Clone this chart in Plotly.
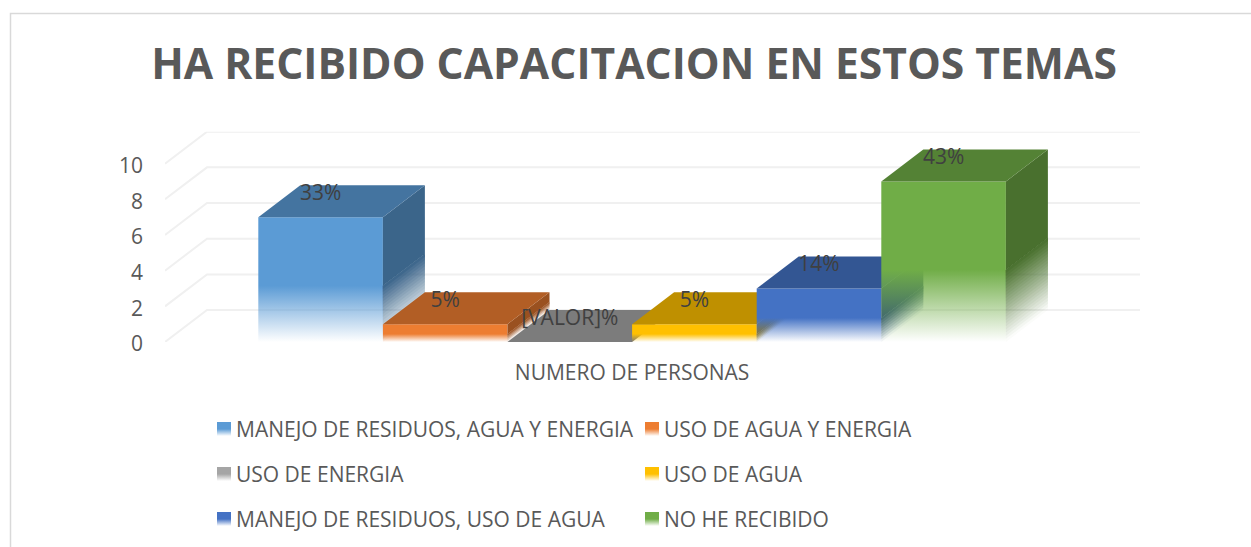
import math
import plotly.graph_objects as go

title = "HA RECIBIDO CAPACITACION EN ESTOS TEMAS"
axis_label = "NUMERO DE PERSONAS"
categories = ["MANEJO DE RESIDUOS, AGUA Y ENERGIA", "USO DE AGUA Y ENERGIA", "USO DE ENERGIA",
              "USO DE AGUA", "MANEJO DE RESIDUOS, USO DE AGUA", "NO HE RECIBIDO"]
values = [7, 1, 0, 1, 3, 9]
labels = ["33%", "5%", "[VALOR]%", "5%", "14%", "43%"]
front_rgb = [(91, 155, 213), (237, 125, 49), (165, 165, 165), (255, 192, 0), (68, 114, 196), (112, 173, 71)]
y_ticks = [0, 2, 4, 6, 8, 10]

W, H = 1251, 547
PLOT_L, PLOT_R, PLOT_T, PLOT_B = 165, 1140, 131.7, 342
UNIT_X = 124.6
UNIT_Y = 17.87
DEPTH_X = 42 / UNIT_X
DEPTH_Y = 32 / UNIT_Y
FADE = 0.45
FONT = "Open Sans"
INK = "#595959"


def rgba(c, a=1.0, k=1.0):
    return f"rgba({round(c[0]*k)},{round(c[1]*k)},{round(c[2]*k)},{a:.3f})"


def poly(xs, ys, **kw):
    return go.Scatter(x=xs + xs[:1], y=ys + ys[:1], mode="lines", line=dict(width=0), fill="toself",
                      hoverinfo="skip", showlegend=False, **kw)


fig = go.Figure()

# walls
gx, gy = [], []
x_left = -(258.3 - PLOT_L) / UNIT_X
x_right = (PLOT_R - 258.3) / UNIT_X
for t in y_ticks:
    gx += [x_left, x_left + DEPTH_X, x_right, None]
    gy += [t, t + DEPTH_Y, t + DEPTH_Y, None]
fig.add_trace(go.Scatter(x=gx, y=gy, mode="lines", line=dict(color="#f0f0f0", width=2),
                         hoverinfo="skip", showlegend=False))

# bars
for i, (v, c) in enumerate(zip(values, front_rgb)):
    x0, x1 = float(i), float(i + 1)
    # front
    if v > 0:
        fig.add_trace(poly([x0, x1, x1, x0], [0, 0, v, v],
                           fillgradient=dict(type="vertical", start=0, stop=v,
                                             colorscale=[[0, rgba(c, 0)], [FADE, rgba(c, 1)], [1, rgba(c, 1)]])))
        # side: solid part, then stacked thin layers that build up the skewed fade without seams
        f = v * FADE
        fig.add_trace(poly([x1, x1 + DEPTH_X, x1 + DEPTH_X, x1],
                           [f, f + DEPTH_Y, v + DEPTH_Y, v], fillcolor=rgba(c, 1, 0.65)))
        n = math.ceil(f * 5) + 2
        prev = 0.0
        for b in range(n):
            a0 = f * b / n
            target = (b + 0.5) / n
            layer = 1 - (1 - target) / (1 - prev)
            prev = target
            fig.add_trace(poly([x1, x1 + DEPTH_X, x1 + DEPTH_X, x1],
                               [a0, a0 + DEPTH_Y, f + DEPTH_Y, f],
                               fillcolor=rgba(c, layer, 0.65)))
    # top
    fig.add_trace(poly([x0, x1, x1 + DEPTH_X, x0 + DEPTH_X],
                       [v, v, v + DEPTH_Y, v + DEPTH_Y], fillcolor=rgba(c, 1, 0.75)))

# data labels
fig.add_trace(go.Scatter(x=[i + 0.5 for i in range(len(values))], y=[v + 1.26 for v in values],
                         mode="text", text=labels, textposition="middle center",
                         textfont=dict(family=FONT, size=21, color="#404040"),
                         hoverinfo="skip", showlegend=False))

# legend keys on a full-page axis pair
key_x = [217, 645]
key_y = [429, 474, 519]
annotations = []
for i, (name, c) in enumerate(zip(categories, front_rgb)):
    kx, ky = key_x[i % 2], key_y[i // 2]
    fig.add_trace(go.Scatter(x=[kx, kx + 14, kx + 14, kx, kx], y=[ky - 7, ky - 7, ky + 7, ky + 7, ky - 7],
                             xaxis="x2", yaxis="y2", mode="lines", line=dict(width=0), fill="toself",
                             fillgradient=dict(type="vertical", start=ky + 7, stop=ky - 7,
                                               colorscale=[[0, rgba(c, 0)], [0.5, rgba(c, 1)], [1, rgba(c, 1)]]),
                             hoverinfo="skip", showlegend=False))
    annotations.append(dict(x=kx + 20, y=ky, xref="x2", yref="y2", text=name, showarrow=False,
                            xanchor="left", yanchor="middle", xshift=-3,
                            font=dict(family=FONT, size=21, color=INK)))

fig.update_layout(
    template="none",
    width=W, height=H, autosize=False, showlegend=False,
    margin=dict(l=0, r=0, t=0, b=0, pad=0, autoexpand=False), paper_bgcolor="white", plot_bgcolor="rgba(0,0,0,0)",
    title=dict(text=f"<b>{title}</b>", x=634 / W, y=1 - 64.5 / H, xanchor="center", yanchor="middle",
               font=dict(family=FONT, size=42.6, color=INK)),
    xaxis=dict(domain=[PLOT_L / W, PLOT_R / W], range=[x_left, x_right], anchor="y", automargin=False,
               tickvals=[3], ticktext=[axis_label], ticks="", showgrid=False, zeroline=False, showline=False,
               ticklabelstandoff=16, tickfont=dict(family=FONT, size=21, color=INK)),
    yaxis=dict(domain=[1 - PLOT_B / H, 1 - PLOT_T / H], range=[0, 10 + DEPTH_Y], anchor="x", automargin=False,
               tickvals=y_ticks, ticks="", showgrid=False, zeroline=False, showline=False,
               ticklabelstandoff=21, ticklabelshift=2, tickfont=dict(family=FONT, size=21, color=INK)),
    xaxis2=dict(domain=[0, 1], range=[0, W], visible=False, anchor="y2", automargin=False),
    yaxis2=dict(domain=[0, 1], range=[H, 0], visible=False, anchor="x2", automargin=False),
    annotations=annotations,
    shapes=[dict(type="path", xref="paper", yref="paper",
                 path=f"M {10.5/W} 0 L {10.5/W} {1-13.5/H} L 1 {1-13.5/H}",
                 line=dict(color="#d9d9d9", width=1.5))],
)

fig.write_html("out.html", config=dict(displayModeBar=False),
               post_script="document.body.style.margin='0';")
